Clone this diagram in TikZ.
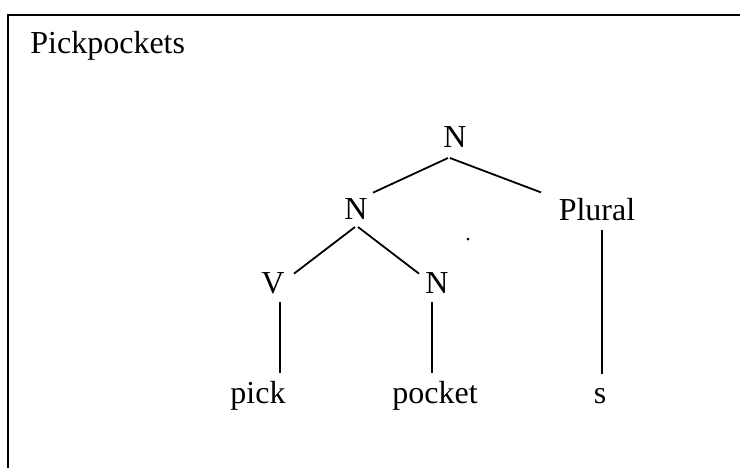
\documentclass[tikz,border=0pt]{standalone}
\usepackage{fontspec}
\setmainfont{Liberation Serif}
\usepackage{tikz}

\begin{document}
\begin{tikzpicture}[x=0.5pt, y=-0.5pt,
    lbl/.style={font=\fontsize{16}{19}\selectfont, inner sep=0pt, anchor=base},
    branch/.style={line width=0.9pt}]
\useasboundingbox (0, 0) rectangle (740, 468);
\draw[line width=1.2pt] (740, 15) -- (8, 15) -- (8, 468);
\node[lbl, anchor=base west] (title) at (30, 53) {Pickpockets};

\node[lbl] (top)    at (455, 147) {N};
\node[lbl] (left)   at (356, 219) {N};
\node[lbl] (plural) at (597, 220) {Plural};
\node[lbl] (verb)   at (273, 293) {V};
\node[lbl] (noun)   at (437, 293) {N};
\node[lbl] (pick)   at (258, 403) {pick};
\node[lbl] (pocket) at (435, 403) {pocket};
\node[lbl] (suffix) at (600, 403) {s};

\draw[branch] ([shift={(-7, 11)}]top.base)  -- ([shift={(17, -5)}]left.north);
\draw[branch] ([shift={(-5, 11)}]top.base)  -- ([shift={(-56, -5)}]plural.north);
\draw[branch] ([shift={(-1, 8)}]left.base)  -- ([shift={(21, 2)}]verb.north);
\draw[branch] ([shift={(2, 8)}]left.base)   -- ([shift={(-18, 2)}]noun.north);
\draw[branch] ([shift={(7, 9)}]verb.base)   -- ([shift={(22, -7)}]pick.north);
\draw[branch] ([shift={(-5, 9)}]noun.base)  -- ([shift={(-3, -7)}]pocket.north);
\draw[branch] ([shift={(5, 10)}]plural.base) -- ([shift={(2, -14)}]suffix.north);

\fill (468, 239) circle (1.5);
\end{tikzpicture}
\end{document}
